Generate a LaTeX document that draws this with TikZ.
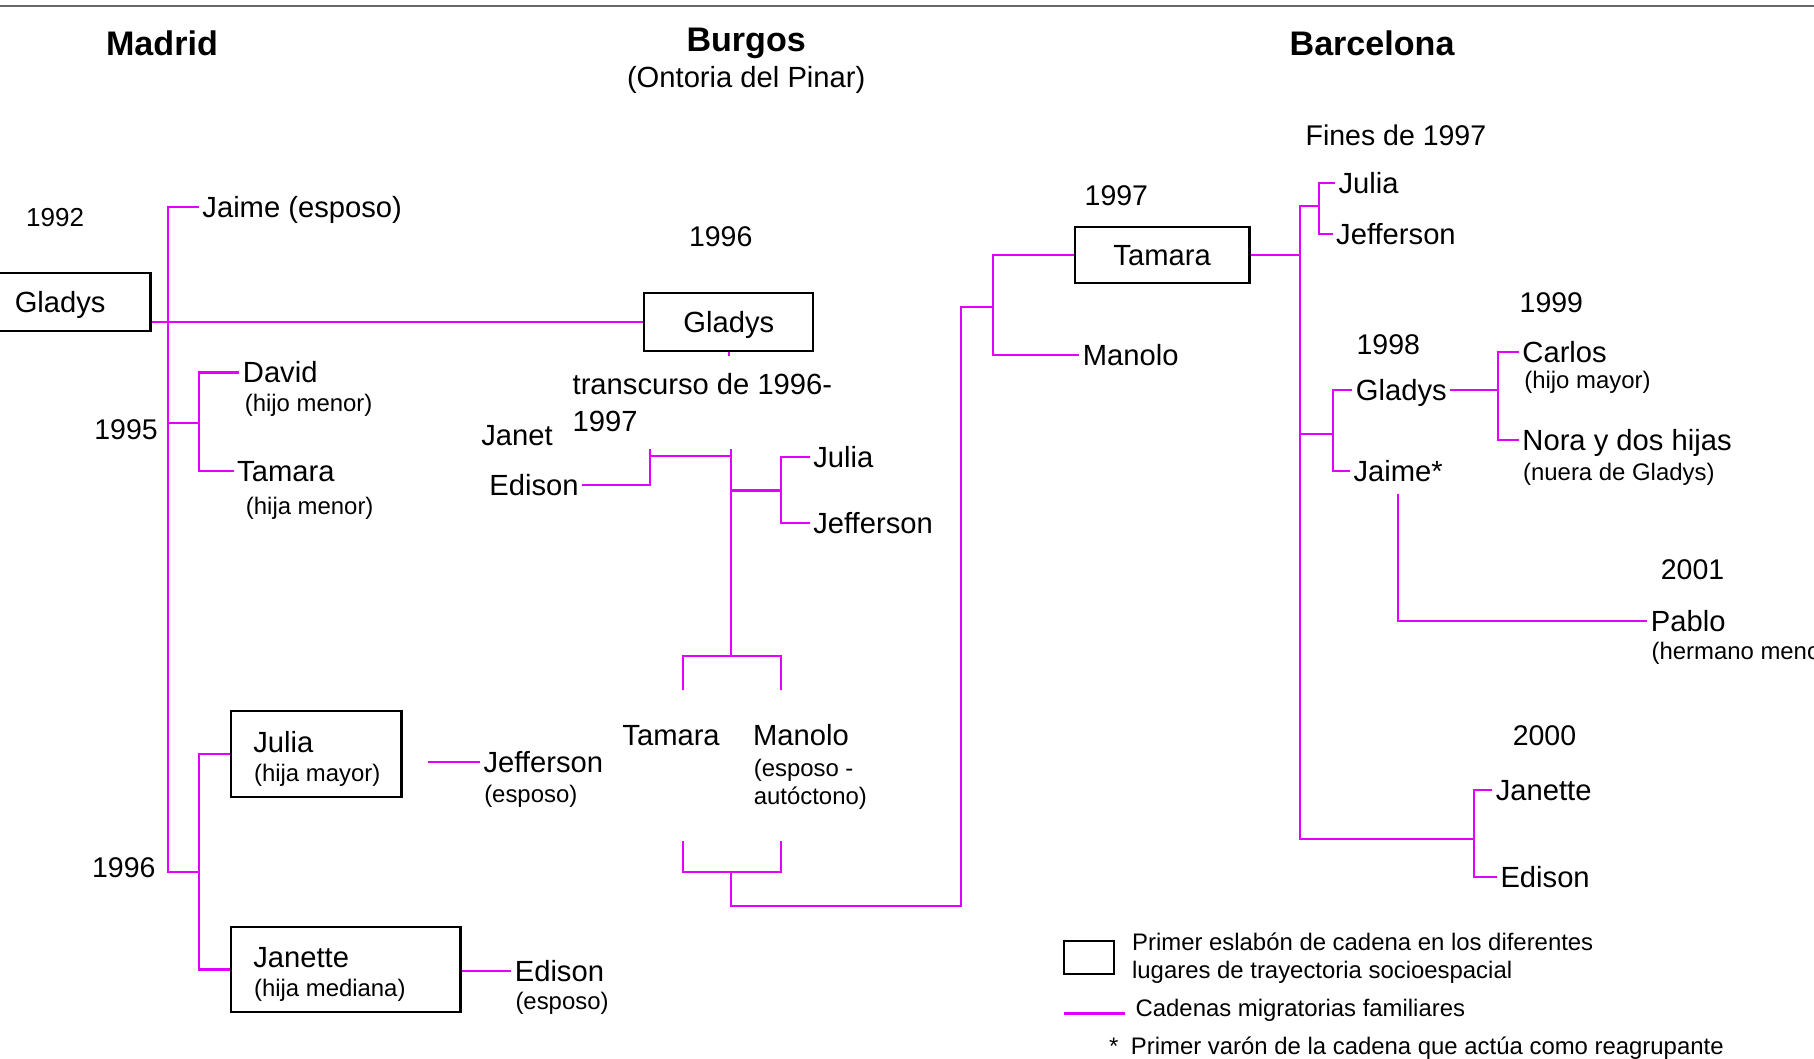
\documentclass[tikz,border=0pt]{standalone}
\usepackage{fontspec}
\setmainfont{Liberation Sans}
\definecolor{chainmagenta}{RGB}{225,0,255}
\definecolor{rulegray}{RGB}{105,105,105}
\begin{document}
\begin{tikzpicture}
[x=0.01157cm,y=-0.01157cm,
  boxdecorate/.style={draw,line width=0.6pt,inner sep=0pt,font=\fontsize{8.3}{10}\selectfont,text height=5.95pt,text depth=0pt},%
  linedecorate/.style={-,draw=chainmagenta,line width=0.6pt},%
  namedecorate/.style={anchor=west,inner sep=0pt,outer sep=1pt,xshift=-1pt,font=\fontsize{8.3}{10}\selectfont,text height=5.95pt,text depth=0pt},%
  roledecorate/.style={anchor=west,inner sep=0pt,font=\fontsize{6.8}{8}\selectfont,text height=4.9pt,text depth=0pt},%
  yeardecorate/.style={anchor=west,inner sep=0pt,font=\fontsize{8.1}{10}\selectfont,text height=5.8pt,text depth=0pt},%
  placedecorate/.style={inner sep=0pt,font=\bfseries\fontsize{9.7}{12}\selectfont,text height=7pt,text depth=0pt}]
\useasboundingbox (0,0) rectangle (1568,915);
\draw[rulegray,line width=0.6pt] (0,5) -- (1568,5);
%% places
\node (madrid) at (140,37) [placedecorate] {Madrid};
\node (burgos) at (645,34) [placedecorate] {Burgos};
\node (ontoria) at (645,67) [namedecorate,anchor=center,xshift=1pt] {(Ontoria del Pinar)};
\node (barcelona) at (1186,37) [placedecorate] {Barcelona};
%% first links
\node (gladysmad) at (52,261) [boxdecorate,minimum width=51.4pt,minimum height=16.5pt] {Gladys};
\node (gladysbur) at (630,278.5) [boxdecorate,minimum width=48.1pt,minimum height=16.5pt] {Gladys};
\node (tamarabcn) at (1004.5,220.5) [boxdecorate,minimum width=49.7pt,minimum height=16.1pt] {Tamara};
\node (juliamad) at (273.5,652) [boxdecorate,minimum width=48.4pt,minimum height=24.4pt] {};
\node (janettemad) at (299,838) [boxdecorate,minimum width=65.2pt,minimum height=24.4pt] {};
\node (legendbox) at (941.5,827.5) [boxdecorate,minimum width=14.2pt,minimum height=9.5pt] {};
%% people
\foreach \nodename/\x/\y/\txt in {jaimemad/175/179/Jaime (esposo),
  davidmad/210/322/David, tamaramad/205/407/Tamara, juliamadtxt/219/641/Julia,
  janettemadtxt/219/827/Janette, jeffersonmad/418/659/Jefferson,
  edisonmad/445/839/Edison, janetbur/416/376/Janet, edisonbur/423/419/Edison,
  juliabur/703/395/Julia, jeffersonbur/703/452/Jefferson,
  transcursobur/495/332/transcurso de 1996-, transcursoend/495/364/1997,
  tamarabur/538/635/Tamara, manolobur/651/635/Manolo,
  manolobcn/936/307/Manolo, juliabcn/1157/158/Julia,
  jeffersonbcn/1155/202/Jefferson, gladysbcn/1172/337/Gladys,
  jaimebcn/1170/407/Jaime*, carlosbcn/1316/304/Carlos,
  norabcn/1316/380/Nora y dos hijas, pablobcn/1427/537/Pablo,
  janettebcn/1293/683/Janette, edisonbcn/1297/758/Edison}
{
  \node (\nodename) at (\x,\y) [namedecorate] {\txt};
}
%% relationships
\foreach \nodename/\x/\y/\txt in {davidrole/211/348/(hijo menor),
  tamararole/212/437/(hija menor), juliarole/219/668/(hija mayor),
  janetterole/219/854/(hija mediana), jeffersonrole/418/686/(esposo),
  edisonrole/445/865/(esposo), manoloroleone/651/664/(esposo -,
  manoloroletwo/651/688/autóctono), carlosrole/1317/328/(hijo mayor),
  nororole/1316/408/(nuera de Gladys), pablorole/1427/563/(hermano menor)}
{
  \node (\nodename) at (\x,\y) [roledecorate] {\txt};
}
%% years
\node (year92) at (22,187) [yeardecorate,font=\fontsize{7.4}{9}\selectfont] {1992};
\foreach \nodename/\x/\y/\txt in {year95/81/371/1995, year96mad/79/750/1996,
  year96bur/595/204/1996, year97bcn/937/169/1997, yearfines/1128/117/Fines de 1997,
  year98/1172/298/1998, year99/1313/261/1999, year01/1435/492/2001,
  year00/1307/636/2000}
{
  \node (\nodename) at (\x,\y) [yeardecorate] {\txt};
}
%% legend
\foreach \nodename/\x/\y/\txt in {legendone/978/814/Primer eslabón de cadena en los diferentes,
  legendtwo/978/838/lugares de trayectoria socioespacial,
  legendthree/981/871/Cadenas migratorias familiares,
  legendfour/958/904/*\hspace{3.6pt}Primer varón de la cadena que actúa como reagrupante}
{
  \node (\nodename) at (\x,\y) [roledecorate] {\txt};
}
%% junctions
\foreach \pointname/\x/\y in {mspine/145/754, m95/172/366, m96/172/754,
  mjeff/370/659, btick/630/308, bleft/562/388, bbar/632/394, btop/632/388,
  bjj/675/424, bknot/632/567, bfl/590/596, bfr/675/596, bgl/590/727,
  bgr/675/727, bmid/632/754, broute/831/783, bcj/858/265, ctop/1124/178,
  cbot/1124/725, cjj/1140/178, c98/1152/375, c99/1295/337, c00/1274/725,
  lgstart/920/876, lgend/972/876}
{
  \coordinate (\pointname) at (\x,\y);
}
%% chains
\path[linedecorate]
  (jaimemad.west) -| (mspine) -- (m96)
  (juliamad.west) -| (m96) |- (janettemad.west)
  (davidmad.west) -| (m95) |- (tamaramad.west)
  (m95) -- (m95 -| mspine)
  (gladysbur.west) -- (gladysbur.west -| gladysmad.east)
  (jeffersonmad.west) -- (mjeff)
  (edisonmad.west) -- (edisonmad.west -| janettemad.east)
  (gladysbur.south) -- (btick)
  (edisonbur.east) -| (bleft)
  (bleft |- bbar) -- (bbar)
  (btop) -- (bknot)
  (juliabur.west) -| (bjj) |- (jeffersonbur.west)
  (bjj) -- (bjj -| btop)
  (bfl) |- (bknot) -| (bfr)
  (bgl) |- (bmid) -| (bgr)
  (bmid) |- (broute) |- (bcj)
  (tamarabcn.west) -| (bcj) |- (manolobcn.west)
  (tamarabcn.east) -- (tamarabcn.east -| ctop)
  (cjj) -- (ctop) -- (cbot) -- (c00)
  (juliabcn.west) -| (cjj) |- (jeffersonbcn.west)
  (gladysbcn.west) -| (c98) |- (jaimebcn.west)
  (c98) -- (c98 -| ctop)
  (gladysbcn.east) -- (c99)
  (carlosbcn.west) -| (c99) |- (norabcn.west)
  (janettebcn.west) -| (c00) |- (edisonbcn.west)
  (lgstart) -- (lgend);
\draw[linedecorate,shorten <=2.5pt] (jaimebcn.south) |- (pablobcn.west);
\end{tikzpicture}
\end{document}
